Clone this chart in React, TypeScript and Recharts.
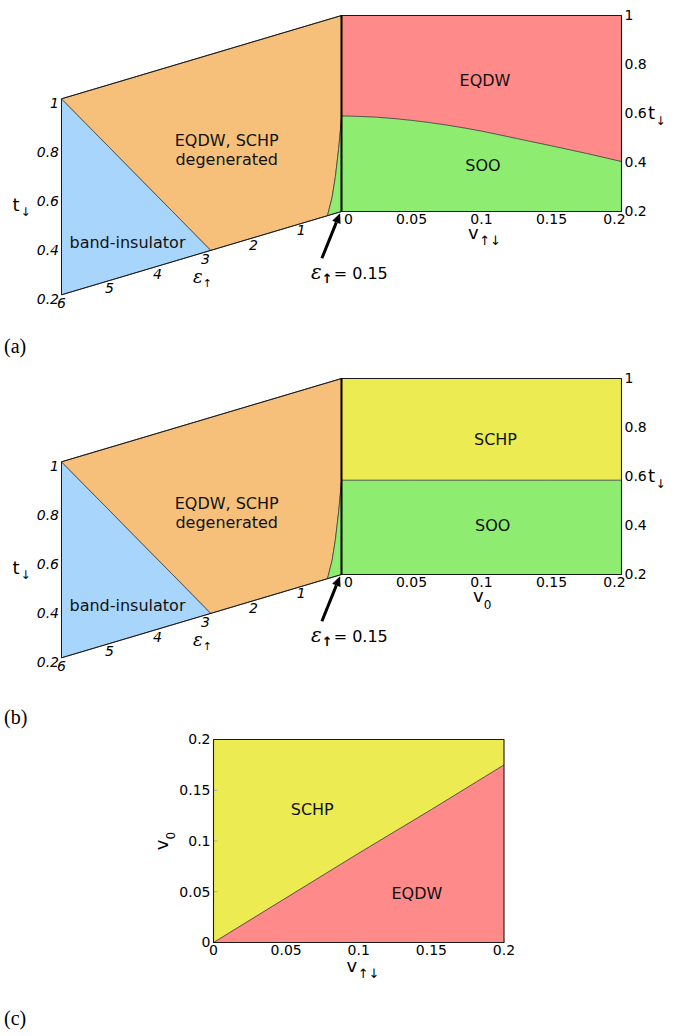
import React from "react";
import {
  Area,
  ComposedChart,
  Line,
  ReferenceDot,
  Scatter,
  ScatterChart,
  XAxis,
  YAxis,
} from "recharts";

const SANS = "'DejaVu Sans', Verdana, sans-serif";
const SERIF = "'Liberation Serif', 'DejaVu Serif', serif";

const COLORS = {
  blue: "#a8d5fb",
  orange: "#f6c07b",
  red: "#ff8a8a",
  green: "#8eed71",
  yellow: "#ecec52",
  edge: "#1a1a1a",
  split: "#333",
};

// --- left (ε↑, t↓) face, shared by (a) and (b) ---
const EPS_MAX = 6;
const T_MIN = 0.2;
const T_MAX = 1;
// the face is drawn in perspective: going from ε=0 to ε=6 drops it by SKEW (t units)
const SKEW = 0.34;

const EPS_TICKS = [6, 5, 4, 3, 2, 1];
const T_TICKS = [0.2, 0.4, 0.6, 0.8, 1];
const BAND_EDGE_EPS = 2.8; // band-insulator / degenerated boundary at t↓ = 0.2
const SLIVER_EPS = [0, 0.06, 0.13, 0.2, 0.3];
const SLIVER_T = [0.58, 0.46, 0.35, 0.27, 0.2];
const ARROW_EPS = [0.42, 0.03];
const ARROW_T = [0.033, 0.195];

// --- (a) right face: EQDW / SOO boundary over v↑↓ ---
const V_A = [0, 0.025, 0.05, 0.075, 0.1, 0.125, 0.15, 0.175, 0.2];
const T_A = [0.59, 0.585, 0.572, 0.553, 0.528, 0.498, 0.468, 0.437, 0.404];

// --- (b) right face: SCHP / SOO boundary over v0 ---
const V_B = [0, 0.05, 0.1, 0.15, 0.2];
const T_B = [0.585, 0.585, 0.585, 0.585, 0.585];

// --- (c) SCHP / EQDW boundary, v0 over v↑↓ ---
const V_C = [0, 0.05, 0.1, 0.15, 0.2];
const V0_C = [0, 0.044, 0.088, 0.131, 0.175];

const V_TICKS = [0, 0.05, 0.1, 0.15, 0.2];

type Pt = { x: number; y: number; label?: number };
const proj = (eps: number, t: number): Pt => ({ x: eps, y: t - (SKEW * eps) / EPS_MAX });

const sliver = SLIVER_EPS.map((e, i) => proj(e, SLIVER_T[i]));
const FACE_OUTLINE = [proj(EPS_MAX, T_MIN), proj(EPS_MAX, T_MAX), proj(0, T_MAX), proj(0, T_MIN), proj(EPS_MAX, T_MIN)];
const BLUE_POLY = [proj(EPS_MAX, T_MIN), proj(EPS_MAX, T_MAX), proj(BAND_EDGE_EPS, T_MIN)];
const ORANGE_POLY = [proj(EPS_MAX, T_MAX), proj(0, T_MAX), ...sliver, proj(BAND_EDGE_EPS, T_MIN)];
const GREEN_POLY = [...sliver, proj(0, T_MIN)];
const T_TICK_PTS = T_TICKS.map((t) => ({ ...proj(EPS_MAX, t), label: t }));
const EPS_TICK_PTS = EPS_TICKS.map((e) => ({ ...proj(e, T_MIN), label: e }));
const ARROW_PTS = ARROW_EPS.map((e, i) => proj(e, ARROW_T[i]));

const noDot = () => <g />;

const poly =
  (fill: string, stroke = COLORS.split, strokeWidth = 0.7) =>
  (p: any) => {
    const d = p.points.map((q: Pt, i: number) => `${i ? "L" : "M"}${q.x},${q.y}`).join("") + "Z";
    return <path d={d} fill={fill} stroke={stroke} strokeWidth={strokeWidth} strokeLinejoin="round" />;
  };

const arrow = (p: any) => {
  const [a, b] = p.points;
  const dx = b.x - a.x;
  const dy = b.y - a.y;
  const len = Math.hypot(dx, dy);
  const ux = dx / len;
  const uy = dy / len;
  const bx = b.x - ux * 10;
  const by = b.y - uy * 10;
  return (
    <g>
      <line x1={a.x} y1={a.y} x2={bx} y2={by} stroke="#000" strokeWidth={3} />
      <path d={`M${b.x},${b.y}L${bx - uy * 4.5},${by + ux * 4.5}L${bx + uy * 4.5},${by - ux * 4.5}Z`} fill="#000" />
    </g>
  );
};

const TLabel = (p: any) => (
  <text x={p.cx - 2.5} y={p.cy + 9} textAnchor="end" fontSize={14} fontStyle="italic" fontFamily={SANS} fill="#000">
    {p.payload.label}
  </text>
);

const EpsLabel = (p: any) => {
  const k = EPS_MAX - p.payload.label;
  return (
    <text x={p.cx + k * 1.3} y={p.cy + 13 - k * 0.6} textAnchor="middle" fontSize={14} fontStyle="italic" fontFamily={SANS} fill="#000">
      {p.payload.label}
    </text>
  );
};

const regionLabel = (value: string) => ({
  value,
  position: "center" as const,
  fill: "#111",
  fontSize: 16,
  fontFamily: SANS,
});

function LeftFace() {
  return (
    <ScatterChart width={676} height={330} margin={{ top: 15.5, right: 334.5, bottom: 35.2, left: 61.5 }}>
      <XAxis type="number" dataKey="x" domain={[0, EPS_MAX]} reversed hide />
      <YAxis type="number" dataKey="y" domain={[T_MIN - SKEW, T_MAX]} hide />
      <Scatter data={BLUE_POLY} line={poly(COLORS.blue)} shape={noDot} isAnimationActive={false} />
      <Scatter data={ORANGE_POLY} line={poly(COLORS.orange)} shape={noDot} isAnimationActive={false} />
      <Scatter data={GREEN_POLY} line={poly(COLORS.green)} shape={noDot} isAnimationActive={false} />
      <Scatter data={FACE_OUTLINE} line={poly("none", COLORS.edge, 1)} shape={noDot} isAnimationActive={false} />
      <Scatter data={T_TICK_PTS} shape={TLabel} isAnimationActive={false} />
      <Scatter data={EPS_TICK_PTS} shape={EpsLabel} isAnimationActive={false} />
      <Scatter data={ARROW_PTS} line={arrow} shape={noDot} isAnimationActive={false} />
      <ReferenceDot {...proj(2.46, 0.631)} r={0} label={regionLabel("EQDW, SCHP")} />
      <ReferenceDot {...proj(2.46, 0.553)} r={0} label={regionLabel("degenerated")} />
      <ReferenceDot {...proj(4.586, 0.336)} r={0} label={regionLabel("band-insulator")} />
    </ScatterChart>
  );
}

const VTick = (p: any) => {
  const v = p.payload.value;
  const shift = v === 0 ? 7 : v === 0.2 ? -7 : 0;
  return (
    <text x={p.x + shift} y={p.y} dy="0.71em" textAnchor="middle" fontSize={14} fontFamily={SANS} fill="#000">
      {String(v)}
    </text>
  );
};

const RECT_AB = [
  { v: 0, b: T_MIN },
  { v: 0, b: T_MAX },
  { v: 0.2, b: T_MAX },
  { v: 0.2, b: T_MIN },
  { v: 0, b: T_MIN },
];
const LEFT_EDGE_AB = [
  { v: 0, b: T_MIN },
  { v: 0, b: T_MAX },
];

function RightFace({
  data,
  upperColor,
  upperLabel,
  upperPos,
  lowerPos,
}: {
  data: { v: number; b: number }[];
  upperColor: string;
  upperLabel: string;
  upperPos: [number, number];
  lowerPos: [number, number];
}) {
  return (
    <ComposedChart width={676} height={260} data={data} margin={{ top: 15.5, right: 14.5, bottom: 18.5, left: 341.5 }}>
      <XAxis
        type="number"
        dataKey="v"
        domain={[0, 0.2]}
        ticks={V_TICKS}
        height={30}
        axisLine={false}
        tickLine={false}
        tickSize={0}
        tickMargin={3}
        tick={VTick}
      />
      <YAxis
        type="number"
        dataKey="b"
        orientation="right"
        domain={[T_MIN, T_MAX]}
        ticks={T_TICKS}
        width={40}
        axisLine={false}
        tickLine={false}
        tickSize={0}
        tickMargin={3}
        tick={{ fill: "#000", fontSize: 14, fontFamily: SANS }}
      />
      <Area type="monotone" dataKey={(d: any) => [d.b, T_MAX]} fill={upperColor} fillOpacity={1} stroke="none" isAnimationActive={false} />
      <Area type="monotone" dataKey={(d: any) => [T_MIN, d.b]} fill={COLORS.green} fillOpacity={1} stroke="none" isAnimationActive={false} />
      <Line type="monotone" dataKey="b" stroke={COLORS.split} strokeWidth={0.8} dot={false} isAnimationActive={false} />
      <Scatter data={RECT_AB} line={poly("none", COLORS.edge, 1.1)} shape={noDot} isAnimationActive={false} />
      <Scatter data={LEFT_EDGE_AB} line={{ stroke: "#000", strokeWidth: 2 }} shape={noDot} isAnimationActive={false} />
      <ReferenceDot x={upperPos[0]} y={upperPos[1]} r={0} label={regionLabel(upperLabel)} />
      <ReferenceDot x={lowerPos[0]} y={lowerPos[1]} r={0} label={regionLabel("SOO")} />
    </ComposedChart>
  );
}

const RECT_C = [
  { v: 0, w: 0 },
  { v: 0, w: 0.2 },
  { v: 0.2, w: 0.2 },
  { v: 0.2, w: 0 },
  { v: 0, w: 0 },
];

function PanelC() {
  const data = V_C.map((v, i) => ({ v, w: V0_C[i] }));
  const tick = { fill: "#000", fontSize: 14, fontFamily: SANS };
  return (
    <ComposedChart width={676} height={300} data={data} margin={{ top: 19.5, right: 172, bottom: 47.5, left: 163.5 }}>
      <XAxis
        type="number"
        dataKey="v"
        domain={[0, 0.2]}
        ticks={V_TICKS}
        height={30}
        axisLine={false}
        tickLine={{ stroke: "#aaa" }}
        tickSize={-4}
        tickMargin={7}
        tick={tick}
      />
      <YAxis
        type="number"
        dataKey="w"
        domain={[0, 0.2]}
        ticks={V_TICKS}
        width={50}
        axisLine={false}
        tickLine={{ stroke: "#aaa" }}
        tickSize={-4}
        tickMargin={7}
        tick={tick}
      />
      <Area type="linear" dataKey={(d: any) => [d.w, 0.2]} fill={COLORS.yellow} fillOpacity={1} stroke="none" isAnimationActive={false} />
      <Area type="linear" dataKey={(d: any) => [0, d.w]} fill={COLORS.red} fillOpacity={1} stroke="none" isAnimationActive={false} />
      <Line type="linear" dataKey="w" stroke={COLORS.split} strokeWidth={0.8} dot={false} isAnimationActive={false} />
      <Scatter data={RECT_C} line={poly("none", COLORS.edge, 1.1)} shape={noDot} isAnimationActive={false} />
      <ReferenceDot x={0.068} y={0.131} r={0} label={regionLabel("SCHP")} />
      <ReferenceDot x={0.14} y={0.0485} r={0} label={regionLabel("EQDW")} />
    </ComposedChart>
  );
}

// axis titles and panel letters with sub/superscript arrows
function Annotations() {
  const faceTitles = (dy: number, xTitle: React.ReactNode) => (
    <g transform={`translate(0,${dy})`} fontFamily={SANS} fill="#000">
      <text x={12.5} y={211} fontSize={18}>
        t<tspan dx={1} dy={5} fontSize={12}>↓</tspan>
      </text>
      <text x={648} y={118.5} fontSize={18}>
        t<tspan dx={0.5} dy={6} fontSize={12}>↓</tspan>
      </text>
      {xTitle}
      <text x={193} y={282.5} fontSize={18} fontStyle="italic" fontFamily="'DejaVu Serif', serif">
        ε<tspan dx={0} dy={4} fontSize={11} fontStyle="normal" fontFamily={SANS}>↑</tspan>
      </text>
      <text x={311} y={278.5} fontSize={20} fontStyle="italic" fontFamily="'DejaVu Serif', serif">
        ε<tspan dy={4} fontSize={13} fontStyle="normal" fontWeight="bold" fontFamily={SANS}>↑</tspan>
        <tspan dy={-4} dx={1} fontSize={16} fontStyle="normal" fontFamily={SANS}>= 0.15</tspan>
      </text>
    </g>
  );
  return (
    <svg width={676} height={1036} style={{ position: "absolute", left: 0, top: 0, pointerEvents: "none" }}>
      {faceTitles(
        0,
        <text x={468} y={239} fontSize={18}>
          v<tspan dx={0.5} dy={6} fontSize={13}>↑↓</tspan>
        </text>
      )}
      {faceTitles(
        363,
        <text x={473} y={238.5} fontSize={18}>
          v<tspan dy={7} fontSize={12}>0</tspan>
        </text>
      )}
      <text transform="rotate(-90)" x={-841} y={168} textAnchor="middle" fontSize={18} fontFamily={SANS}>
        v<tspan dy={7} fontSize={12}>0</tspan>
      </text>
      <text x={346.5} y={971.5} fontSize={18} fontFamily={SANS}>
        v<tspan dx={0.5} dy={6} fontSize={13}>↑↓</tspan>
      </text>
      <g fontFamily={SERIF} fontSize={20} fill="#000">
        <text x={4} y={352.5}>(a)</text>
        <text x={4} y={723.5}>(b)</text>
        <text x={4} y={1024.5}>(c)</text>
      </g>
    </svg>
  );
}

export default function App() {
  const dataA = V_A.map((v, i) => ({ v, b: T_A[i] }));
  const dataB = V_B.map((v, i) => ({ v, b: T_B[i] }));
  return (
    <div style={{ position: "absolute", left: 0, top: 0, width: 676, height: 1036, background: "#fff", overflow: "hidden" }}>
      <div style={{ position: "absolute", left: 0, top: 0 }}>
        <LeftFace />
      </div>
      <div style={{ position: "absolute", left: 0, top: 0 }}>
        <RightFace data={dataA} upperColor={COLORS.red} upperLabel="EQDW" upperPos={[0.1025, 0.737]} lowerPos={[0.101, 0.39]} />
      </div>
      <div style={{ position: "absolute", left: 0, top: 363 }}>
        <LeftFace />
      </div>
      <div style={{ position: "absolute", left: 0, top: 363 }}>
        <RightFace data={dataB} upperColor={COLORS.yellow} upperLabel="SCHP" upperPos={[0.11, 0.753]} lowerPos={[0.108, 0.402]} />
      </div>
      <div style={{ position: "absolute", left: 0, top: 720 }}>
        <PanelC />
      </div>
      <Annotations />
    </div>
  );
}
